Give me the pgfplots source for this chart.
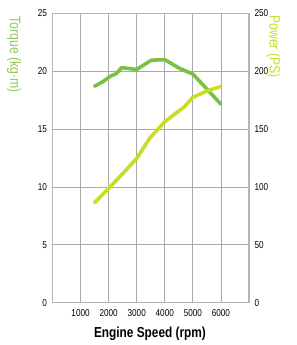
\documentclass[border=0pt]{standalone}
\usepackage{pgfplots}
\pgfplotsset{compat=1.18}
\usepackage{fontspec}
\setmainfont{Liberation Sans}[FakeStretch=0.82]
\definecolor{tq}{HTML}{7AC143}
\definecolor{pw}{HTML}{C9DC2A}
\definecolor{gridc}{HTML}{A7A9AC}
\definecolor{framec}{HTML}{B5B5B8}
\begin{document}
\begin{tikzpicture}
\useasboundingbox (0,0) rectangle (297bp,345bp);
\pgfplotsset{
  base/.style={
    scale only axis, width=196.5bp, height=289.4bp,
    at={(52.5bp,42.3bp)}, anchor=south west,
    xmin=0, xmax=7000, ymin=0,
    major tick length=0pt,
    axis line style={framec, line width=1.6pt},
    tick label style={font=\fontsize{10}{12}\selectfont, text=black},
    /pgf/number format/assume math mode=true,
    /pgf/number format/1000 sep={},
    clip=false,
  }
}
\begin{axis}[base,
  ymax=25, ytick={0,5,...,25},
  xtick={1000,2000,...,6000},
  xmajorgrids, ymajorgrids,
  grid style={gridc, line width=0.8pt},
  scaled x ticks=false,
  xticklabel style={yshift=-3bp},
  yticklabel style={xshift=-2bp},
  every axis y label/.style={at={(axis description cs:-0.196,0.857)}, rotate=-90, anchor=center},
  ylabel={\fontsize{15}{17}\selectfont\color{tq!85!white}Torque (kg·m)},
  every axis x label/.style={at={(axis description cs:0.496,-0.108)}, anchor=center},
  xlabel={\fontsize{14.5}{16}\selectfont\bfseries Engine Speed (rpm)},
]
\addplot[tq, line width=3.6bp, line join=round, line cap=round] coordinates {
(1500,18.7) (1800,19.1) (2050,19.55) (2280,19.8) (2460,20.3) (3000,20.15)
(3520,20.95) (4000,21.0) (4520,20.25) (5000,19.75) (5060,19.6) (6000,17.15)};
\end{axis}
\begin{axis}[base,
  ymax=250, ytick={0,50,...,250},
  axis y line*=right, axis x line=none,
  yticklabel style={xshift=2bp},
  every axis y label/.style={at={(axis description cs:1.125,0.885)}, rotate=-90, anchor=center},
  ylabel={\fontsize{15}{17}\selectfont\color{pw}Power (PS)},
]
\addplot[pw, line width=3.6bp, line join=round, line cap=round] coordinates {
(1500,86.4) (2000,98.7) (2500,111.5) (3000,124.7) (3460,142.0) (4000,156.3)
(4470,165.0) (4700,169.3) (5000,177.4) (5520,183.1) (6000,186.8)};
\end{axis}
\end{tikzpicture}
\end{document}
